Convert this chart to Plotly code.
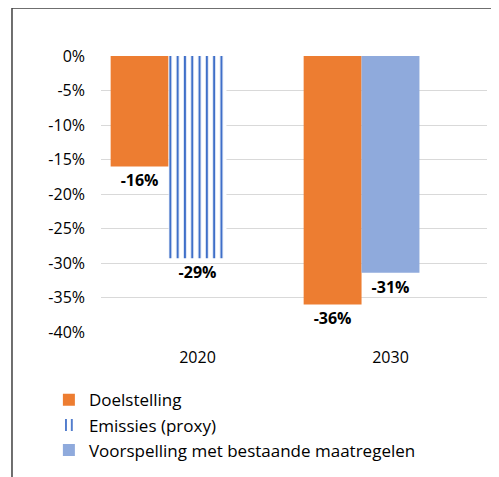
import plotly.graph_objects as go

years = ["2020", "2030"]
doelstelling = [-16, -36]
emissies = [-29.3, None]
voorspelling = [None, -31.4]
y_ticks = [0, -5, -10, -15, -20, -25, -30, -35, -40]
y_tick_labels = ["0%", "-5%", "-10%", "-15%", "-20%", "-25%", "-30%", "-35%", "-40%"]

FONT = "Open Sans, sans-serif"
label_font = dict(size=16, color="black", family=FONT, weight="bold")
BAR_W = 0.3

fig = go.Figure()
fig.add_trace(go.Bar(
    x=years, y=doelstelling, name="Doelstelling",
    width=BAR_W, offset=-0.45,
    marker=dict(color="#ED7D31", line=dict(width=0)),
    texttemplate="%{y:.0f}%", textposition="outside",
    textfont=label_font, cliponaxis=False,
))
fig.add_trace(go.Bar(
    x=years, y=emissies, name="Emissies (proxy)",
    width=BAR_W, offset=-0.15,
    marker=dict(color="white", line=dict(width=0),
                pattern=dict(shape="|", fgcolor="#3F6FC8", bgcolor="white",
                             fgopacity=1, size=7.3, solidity=0.3)),
    texttemplate="%{y:.0f}%", textposition="outside",
    textfont=label_font, cliponaxis=False,
))
fig.add_trace(go.Bar(
    x=years, y=voorspelling, name="Voorspelling met bestaande maatregelen",
    width=BAR_W, offset=-0.15,
    marker=dict(color="#8FAADC", line=dict(width=0)),
    texttemplate="%{y:.0f}%", textposition="outside",
    textfont=label_font, cliponaxis=False,
))

fig.update_layout(
    width=499, height=477,
    margin=dict(l=93, r=20, t=48, b=153, autoexpand=False),
    paper_bgcolor="white", plot_bgcolor="white",
    barmode="overlay",
    font=dict(family=FONT, size=16, color="#000000"),
    showlegend=True,
    legend=dict(
        orientation="v", x=-0.135, xanchor="left", y=-0.182, yanchor="top",
        font=dict(size=17, family=FONT, color="#000000"),
        bgcolor="rgba(0,0,0,0)", tracegroupgap=0, itemsizing="constant",
    ),
    shapes=[dict(type="rect", xref="paper", yref="paper",
                 x0=-0.2306, x1=1.2, y0=-1.0, y1=1.174,
                 line=dict(color="#404040", width=1.5), layer="below")],
)
fig.update_xaxes(type="category", showgrid=False, showline=False, ticks="",
                 ticklabelstandoff=14,
                 tickfont=dict(size=16, family=FONT, color="#000000"))
fig.update_yaxes(range=[-40, 0], tickvals=y_ticks, ticktext=y_tick_labels,
                 showgrid=True, gridcolor="#D9D9D9", gridwidth=1,
                 zeroline=False, showline=False, ticks="",
                 ticklabelstandoff=15,
                 tickfont=dict(size=16, family=FONT, color="#000000"))

fig.write_html("out.html")
